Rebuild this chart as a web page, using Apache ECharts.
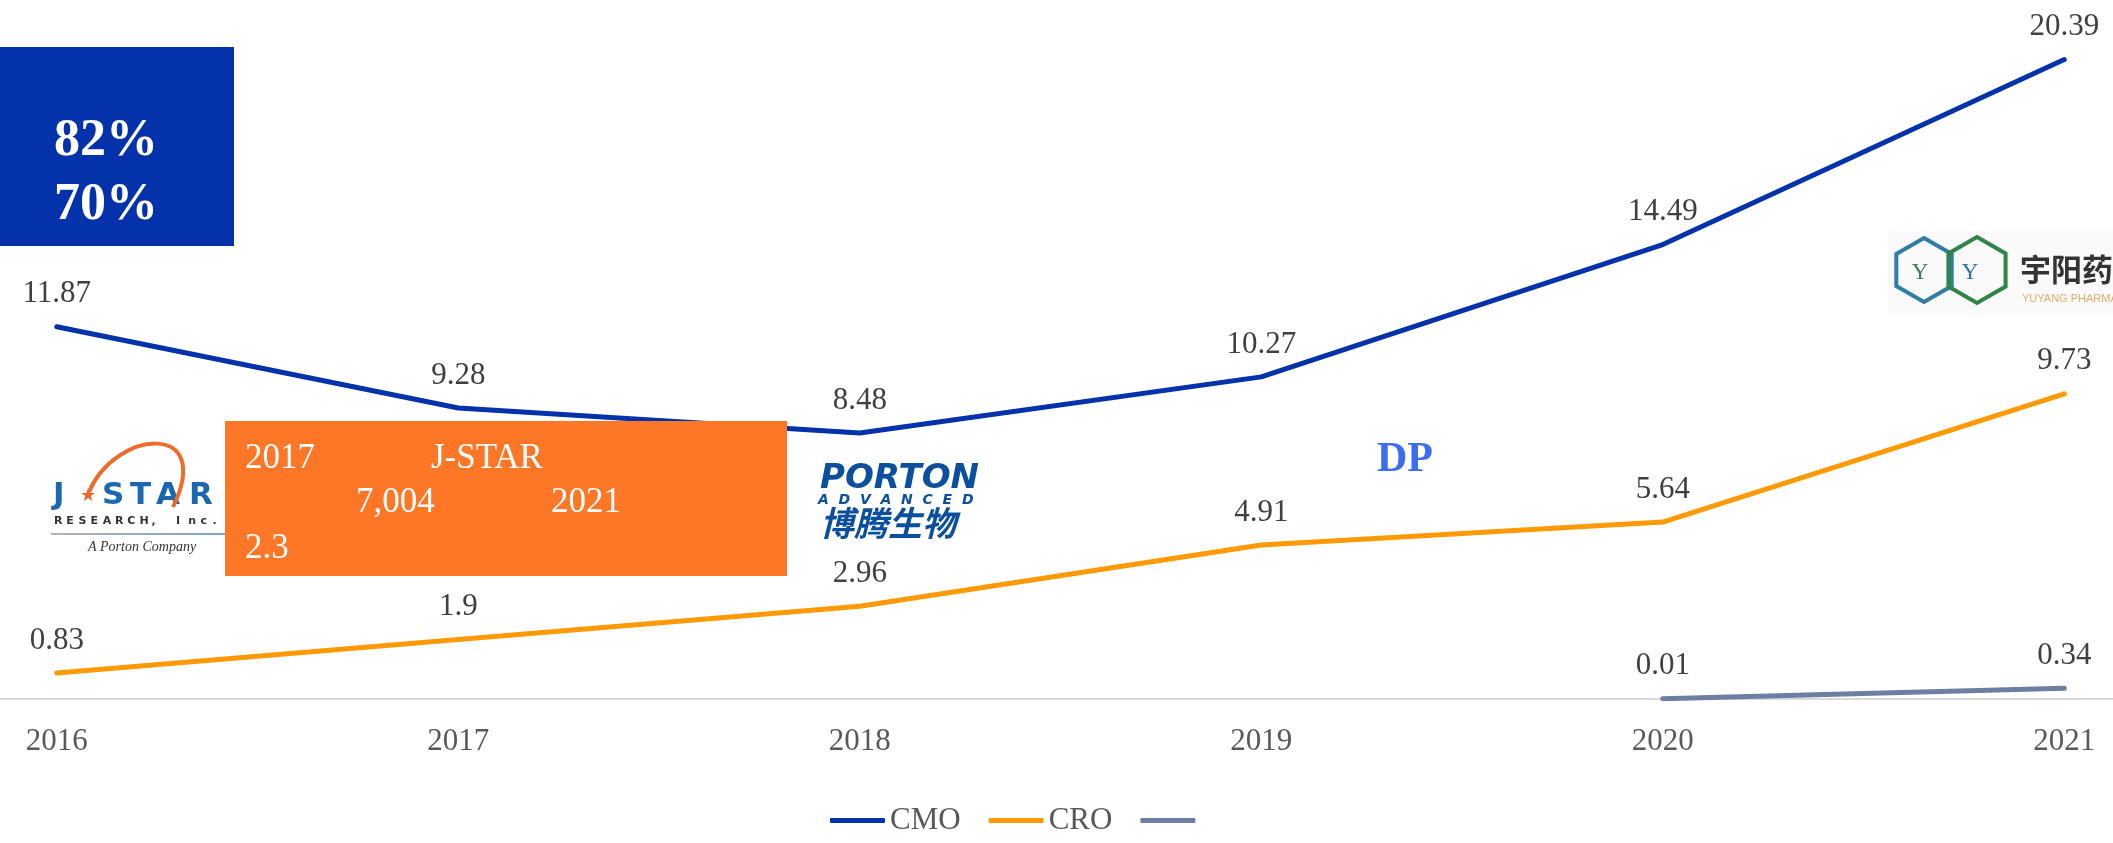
<!DOCTYPE html>
<html>
<head>
<meta charset="utf-8">
<script src="https://cdn.jsdelivr.net/npm/echarts@6.0.0/dist/echarts.min.js"></script>
<style>
  html, body { margin: 0; padding: 0; background: #fff; }
  #chart { width: 2113px; height: 843px; }
</style>
</head>
<body>
<div id="chart"></div>
<script>
  // 数据
  const years = ['2016', '2017', '2018', '2019', '2020', '2021'];
  const cmoValues = [11.87, 9.28, 8.48, 10.27, 14.49, 20.39];
  const croValues = [0.83, 1.9, 2.96, 4.91, 5.64, 9.73];
  const dpValues = ['-', '-', '-', '-', 0.01, 0.34];
  const seriesNames = ['CMO', 'CRO', ' '];

  const serif = '"Liberation Serif", "Times New Roman", serif';
  const blue = '#0432AB';
  const orange = '#FF9A05';
  const grey = '#6E7DA2';

  let chart = echarts.init(document.getElementById('chart'));

  // 折线公共配置
  function lineSeries(name, data, color) {
    return {
      name: name,
      type: 'line',
      data: data,
      color: color,
      symbol: 'circle',
      symbolSize: 2,
      connectNulls: false,
      lineStyle: { width: 5, color: color, cap: 'round', join: 'round' },
      itemStyle: { color: color },
      label: {
        show: true,
        position: 'top',
        distance: 16,
        color: '#404040',
        fontSize: 31,
        fontFamily: serif
      },
      emphasis: { disabled: true },
      animation: false
    };
  }

  // 文字
  function txt(x, y, text, font, fill, extra, align) {
    return Object.assign({
      type: 'text', x: x, y: y, z: 100,
      style: { text: text, font: font, fill: fill, verticalAlign: 'middle', align: align || 'left' }
    }, extra || {});
  }

  function hexPoints(cx, cy, r) {
    let w = r * 0.866;
    return [[cx, cy - r], [cx + w, cy - r / 2], [cx + w, cy + r / 2], [cx, cy + r], [cx - w, cy + r / 2], [cx - w, cy - r / 2]];
  }

  const logoBlue = '#1B68B0';
  const logoFont = 'bold 31px "DejaVu Sans"';

  let graphics = [
    // 左上蓝色框
    { type: 'rect', z: 100, shape: { x: 0, y: 47, width: 234, height: 199 }, style: { fill: blue } },
    txt(54, 142, '82%', 'bold 52px ' + serif, '#fff'),
    txt(54, 206, '70%', 'bold 52px ' + serif, '#fff'),

    // J-STAR logo
    txt(53, 496, 'J', logoFont, logoBlue),
    txt(88, 496, '★', '18px "DejaVu Sans"', '#E8672A', null, 'center'),
    txt(102, 496, 'S', logoFont, logoBlue),
    txt(130, 496, 'T', logoFont, logoBlue),
    txt(156, 496, 'A', logoFont, logoBlue),
    txt(189, 496, 'R', logoFont, logoBlue),
    {
      type: 'bezierCurve', z: 101,
      shape: { x1: 89, y1: 492, cpx1: 115, cpy1: 430, cpx2: 215, cpy2: 420, x2: 173, y2: 507 },
      style: { stroke: '#EE6B2A', lineWidth: 4, fill: null }
    },
    {
      type: 'line', z: 100, shape: { x1: 51, y1: 534, x2: 225, y2: 534 },
      style: {
        lineWidth: 1.5,
        stroke: new echarts.graphic.LinearGradient(0, 0, 1, 0, [
          { offset: 0, color: '#9A9A9A' },
          { offset: 1, color: '#4F86C6' }
        ])
      }
    },
    txt(88, 547, 'A Porton Company', 'italic 14px ' + serif, '#333'),

    // 橙色框
    { type: 'rect', z: 102, shape: { x: 225, y: 421, width: 562, height: 155 }, style: { fill: '#FD7726' } },
    txt(245, 459, '2017', '35px ' + serif, '#fff', { z: 103 }),
    txt(431, 459, 'J-STAR', '35px ' + serif, '#fff', { z: 103 }),
    txt(356, 503, '7,004', '35px ' + serif, '#fff', { z: 103 }),
    txt(551, 503, '2021', '35px ' + serif, '#fff', { z: 103 }),
    txt(245, 549, '2.3', '35px ' + serif, '#fff', { z: 103 }),

    // PORTON logo
    txt(820, 479, 'PORTON', 'bold italic 34px "DejaVu Sans"', '#0B4F9F'),
    txt(818, 500, 'A  D  V  A  N  C  E  D', 'bold italic 14px "DejaVu Sans"', '#0B4F9F'),
    txt(820, 523, '博腾生物', 'bold italic 34px "Noto Sans CJK SC"', '#0B4F9F'),

    // DP
    txt(1377, 460, 'DP', 'bold 42px ' + serif, '#3A6DF0'),

    // 宇阳 logo
    { type: 'rect', z: 99, shape: { x: 1888, y: 230, width: 225, height: 86 }, style: { fill: '#FAFAFA' } },
    { type: 'polygon', z: 100, shape: { points: hexPoints(1924, 270, 32) }, style: { stroke: '#2E7EA6', lineWidth: 4, fill: null } },
    { type: 'polygon', z: 100, shape: { points: hexPoints(1977, 270, 33) }, style: { stroke: '#2E8546', lineWidth: 4, fill: null } },
    txt(1920, 273, 'Y', '23px ' + serif, '#3D7F5A', null, 'center'),
    txt(1970, 273, 'Y', '23px ' + serif, '#2F74A6', null, 'center'),
    txt(2020, 269, '宇阳药业', 'bold 31px "Noto Sans CJK SC"', '#333'),
    txt(2022, 299, 'YUYANG PHARMACEUTICAL', '11px "Liberation Sans"', '#E0AE6A')
  ];

  // RESEARCH, Inc. 字距较大，逐字放置
  const researchText = 'RESEARCH, Inc.';
  researchText.split('').forEach(function(ch, i) {
    graphics.push(txt(54 + i * 12.2, 521, ch, 'bold 11px "DejaVu Sans"', '#333'));
  });

  let option = {
    backgroundColor: '#fff',
    animation: false,
    grid: {
      left: -144,
      right: -152,
      top: 9,
      bottom: 144,
      containLabel: false,
      outerBoundsMode: 'none'
    },
    legend: {
      left: 825,
      top: 800,
      icon: 'roundRect',
      itemWidth: 55,
      itemHeight: 5,
      itemGap: 28,
      data: seriesNames,
      textStyle: { fontSize: 31, fontFamily: serif, color: '#595959' }
    },
    xAxis: {
      type: 'category',
      data: years,
      boundaryGap: true,
      axisTick: { show: false },
      axisLine: { show: true, lineStyle: { color: '#D9D9D9', width: 2 } },
      axisLabel: { color: '#595959', fontSize: 31, fontFamily: serif, margin: 27 },
      splitLine: { show: false }
    },
    yAxis: {
      type: 'value',
      min: 0,
      max: 22,
      show: false,
      splitLine: { show: false }
    },
    series: [
      lineSeries(seriesNames[0], cmoValues, blue),
      lineSeries(seriesNames[1], croValues, orange),
      lineSeries(seriesNames[2], dpValues, grey)
    ],
    graphic: graphics
  };

  chart.setOption(option);
  window.onresize = chart.resize;
</script>
</body>
</html>
